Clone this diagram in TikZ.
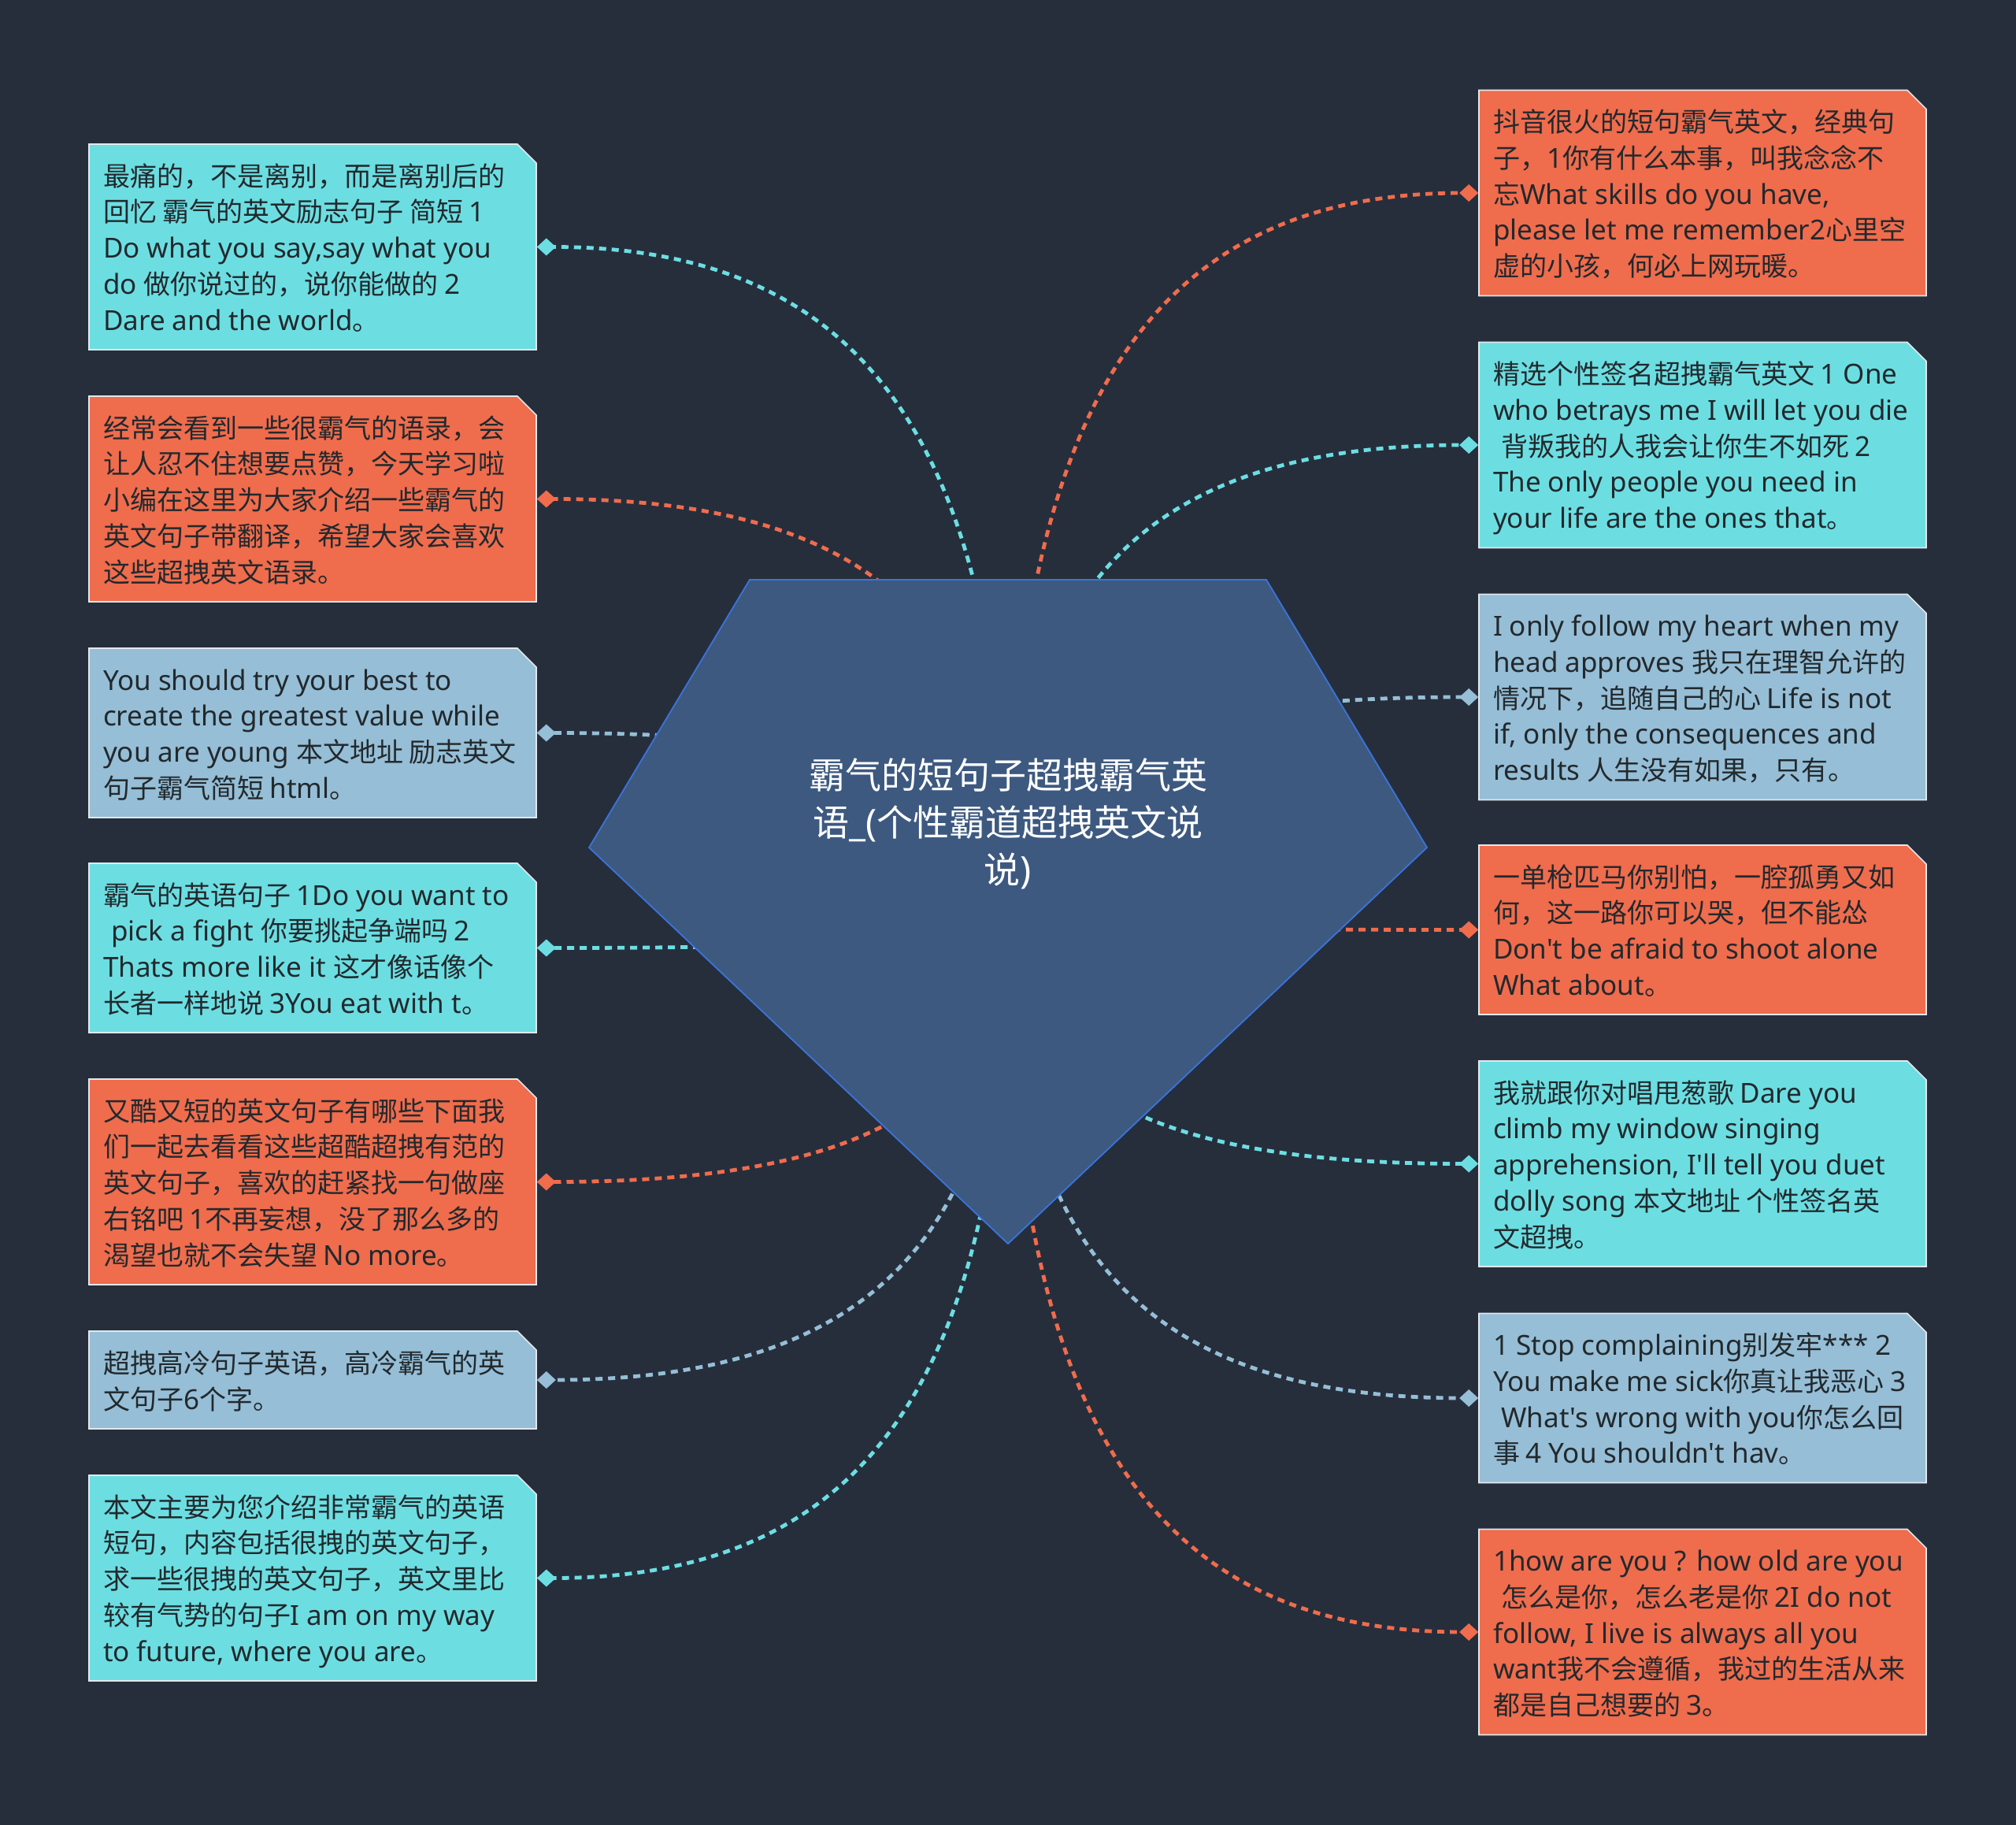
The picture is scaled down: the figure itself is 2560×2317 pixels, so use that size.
\documentclass[tikz,border=0pt]{standalone}
\usepackage{fontspec}
\setmainfont{Noto Sans CJK SC}[Ligatures=TeXOff]
\newfontfamily\cjkfont{Noto Sans CJK SC}[Ligatures=TeXOff]
\newfontfamily\latinfont{Noto Sans}[Ligatures=TeXOff,Scale=1.03]
\usetikzlibrary{arrows.meta,calc,shapes.misc}

% Latin runs in Noto Sans, Chinese runs in Noto Sans CJK
\newXeTeXintercharclass\cjkclass
\newcount\cjkchar
\def\markcjk#1#2{\cjkchar=#1 \loop \XeTeXcharclass\cjkchar=\cjkclass
  \ifnum\cjkchar<#2 \advance\cjkchar by 1 \repeat}
\markcjk{"3000}{"303F}
\markcjk{"4E00}{"9FFF}
\markcjk{"FF00}{"FFEF}
\XeTeXinterchartokenstate=1
\XeTeXinterchartoks 0 \cjkclass = {\cjkfont}
\XeTeXinterchartoks 4095 \cjkclass = {\cjkfont}
\XeTeXinterchartoks \cjkclass 0 = {\latinfont}
\XeTeXinterchartoks 4095 0 = {\latinfont}

\definecolor{bgdark}{HTML}{262E3C}
\definecolor{cyanfill}{HTML}{6CDEE2}
\definecolor{orangefill}{HTML}{EF6C4D}
\definecolor{bluefill}{HTML}{96BED6}
\definecolor{hubfill}{HTML}{3D5980}
\definecolor{hubedge}{HTML}{3A74DA}
\definecolor{leafedge}{HTML}{E2E8EC}
\definecolor{leaftext}{HTML}{22292D}

\pgfdeclarelayer{back}
\pgfdeclarelayer{links}
\pgfsetlayers{back,links,main}

% fixed-width block of lines that never wrap
\newcommand\leaflines[1]{\hbox to 266pt{\raisebox{-2.5pt}[\height][\depth]{\begin{tabular}{@{}l@{}}#1\end{tabular}}\hss}}

\begin{document}
\begin{tikzpicture}[
    x=0.5pt, y=-0.5pt,
    leaf/.style={chamfered rectangle,chamfered rectangle corners=north east,chamfered rectangle sep=6pt,
        draw=leafedge,line width=0.8pt,fill=#1,text=leaftext,inner xsep=0pt,inner ysep=2pt,
        minimum width=284pt,font=\fontsize{17pt}{22.85pt}\selectfont},
    fiveline/.style={minimum height=130.5pt},
    fourline/.style={minimum height=107.5pt},
    twoline/.style={minimum height=62pt},
    hubshape/.style={fill=hubfill,draw=hubedge,line width=0.9pt},
    link/.style={draw=#1,line width=2.4pt,dash pattern=on 4.5pt off 3.5pt,-{Diamond[length=12pt,width=11pt]}}
]

\begin{pgfonlayer}{back}
\fill[bgdark] (0,0) rectangle (2560,2317);
\end{pgfonlayer}
\useasboundingbox (0,0) rectangle (2560,2317);

% centre
\coordinate (hub) at (1280,1158);
\filldraw[hubshape] (952,736) -- (1608,736) -- (1812,1076) -- (1280,1579) -- (748,1076) -- cycle;
\node[text=white,align=center,font=\fontsize{23pt}{30pt}\selectfont] (title) at (1280,1046)
    {霸气的短句子超拽霸气英\\语\_(个性霸道超拽英文说\\说)};

% left column
\node[leaf=cyanfill,fiveline] (l1) at (397,313.5) {\leaflines{最痛的，不是离别，而是离别后的\\回忆 霸气的英文励志句子 简短 1\\Do what you say,say what you\\do 做你说过的，说你能做的 2\\Dare and the world。}};
\node[leaf=orangefill,fiveline] (l2) at (397,633.5) {\leaflines{经常会看到一些很霸气的语录，会\\让人忍不住想要点赞，今天学习啦\\小编在这里为大家介绍一些霸气的\\英文句子带翻译，希望大家会喜欢\\这些超拽英文语录。}};
\node[leaf=bluefill,fourline] (l3) at (397,930.5) {\leaflines{You should try your best to\\create the greatest value while\\you are young 本文地址 励志英文\\句子霸气简短 html。}};
\node[leaf=cyanfill,fourline] (l4) at (397,1203.5) {\leaflines{霸气的英语句子 1Do you want to\\\hspace*{.3em}pick a fight 你要挑起争端吗 2\\Thats more like it 这才像话像个\\长者一样地说 3You eat with t。}};
\node[leaf=orangefill,fiveline] (l5) at (397,1500.5) {\leaflines{又酷又短的英文句子有哪些下面我\\们一起去看看这些超酷超拽有范的\\英文句子，喜欢的赶紧找一句做座\\右铭吧 1不再妄想，没了那么多的\\渴望也就不会失望 No more。}};
\node[leaf=bluefill,twoline] (l6) at (397,1752) {\leaflines{超拽高冷句子英语，高冷霸气的英\\文句子6个字。}};
\node[leaf=cyanfill,fiveline] (l7) at (397,2003.5) {\leaflines{本文主要为您介绍非常霸气的英语\\短句，内容包括很拽的英文句子，\\求一些很拽的英文句子，英文里比\\较有气势的句子I am on my way\\to future, where you are。}};

% right column
\node[leaf=orangefill,fiveline] (r1) at (2162,245) {\leaflines{抖音很火的短句霸气英文，经典句\\子，1你有什么本事，叫我念念不\\忘What skills do you have,\\please let me remember2心里空\\虚的小孩，何必上网玩暖。}};
\node[leaf=cyanfill,fiveline] (r2) at (2162,565) {\leaflines{精选个性签名超拽霸气英文 1 One\\who betrays me I will let you die\\\hspace*{.3em}背叛我的人我会让你生不如死 2\\The only people you need in\\your life are the ones that。}};
\node[leaf=bluefill,fiveline] (r3) at (2162,885) {\leaflines{I only follow my heart when my\\head approves 我只在理智允许的\\情况下，追随自己的心 Life is not\\if, only the consequences and\\results 人生没有如果，只有。}};
\node[leaf=orangefill,fourline] (r4) at (2162,1180.5) {\leaflines{一单枪匹马你别怕，一腔孤勇又如\\何，这一路你可以哭，但不能怂\\Don't be afraid to shoot alone\\What about。}};
\node[leaf=cyanfill,fiveline] (r5) at (2162,1477.5) {\leaflines{我就跟你对唱甩葱歌 Dare you\\climb my window singing\\apprehension, I'll tell you duet\\dolly song 本文地址 个性签名英\\文超拽。}};
\node[leaf=bluefill,fourline] (r6) at (2162,1775) {\leaflines{1 Stop complaining别发牢*** 2\\You make me sick你真让我恶心 3\\\hspace*{.3em}What's wrong with you你怎么回\\事 4 You shouldn't hav。}};
\node[leaf=orangefill,fiveline] (r7) at (2162,2072) {\leaflines{1how are you ? how old are you\\\hspace*{.3em}怎么是你，怎么老是你 2I do not\\follow, I live is always all you\\want我不会遵循，我过的生活从来\\都是自己想要的 3。}};

% links
\begin{pgfonlayer}{links}
\foreach \leaf/\side/\col in {l1/east/cyanfill,l2/east/orangefill,l3/east/bluefill,l4/east/cyanfill,
    l5/east/orangefill,l6/east/bluefill,l7/east/cyanfill,r1/west/orangefill,r2/west/cyanfill,
    r3/west/bluefill,r4/west/orangefill,r5/west/cyanfill,r6/west/bluefill,r7/west/orangefill}
  \draw[link=\col] (hub) .. controls ($(hub |- \leaf.\side)!0.3!(hub)$)
      and ($(\leaf.\side)!0.7!(hub |- \leaf.\side)$) .. (\leaf.\side);
\end{pgfonlayer}

\end{tikzpicture}
\end{document}
